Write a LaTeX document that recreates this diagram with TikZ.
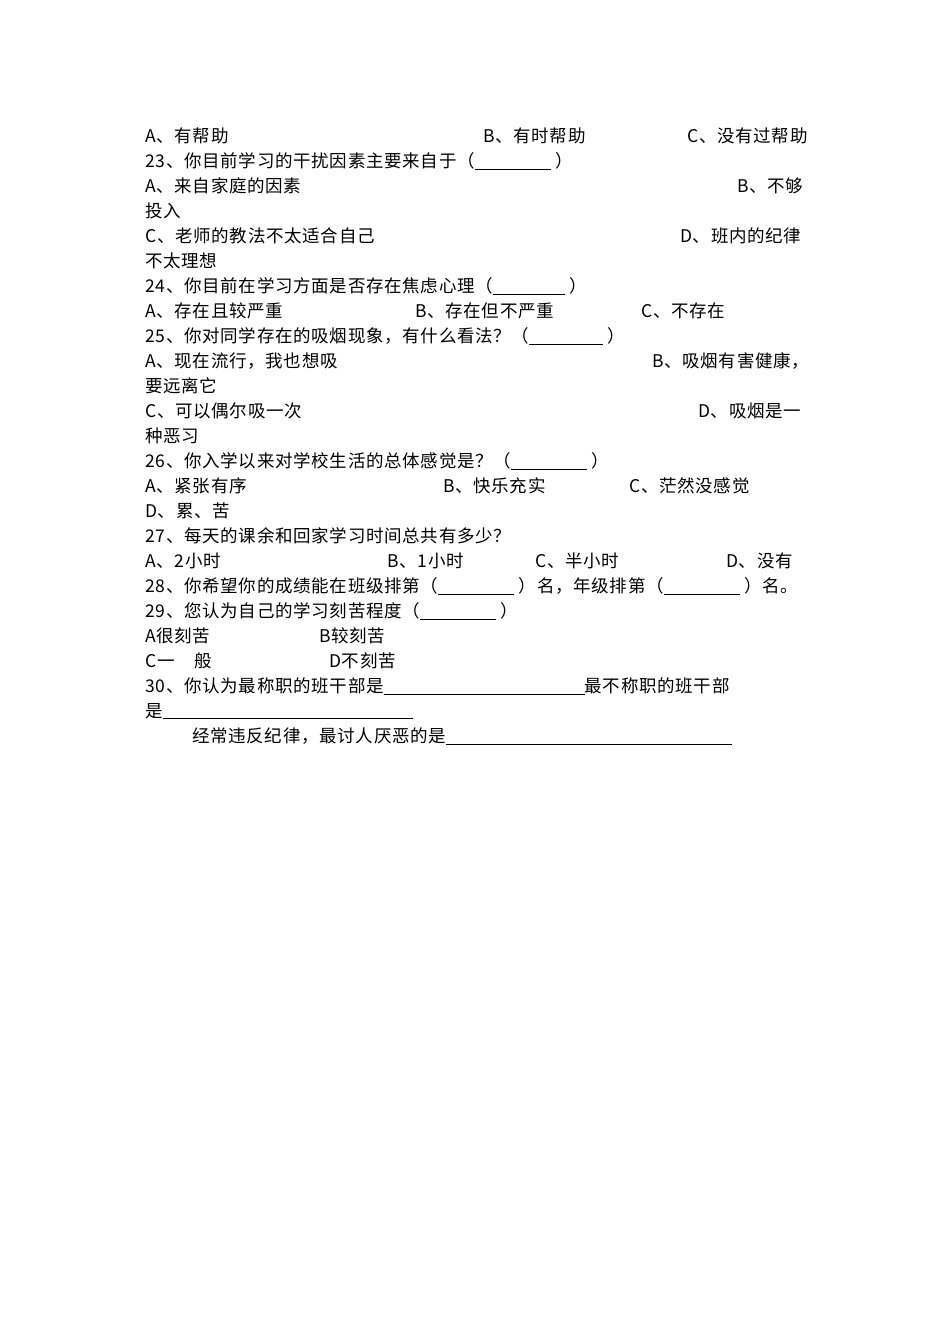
\documentclass[tikz,border=0pt]{standalone}
\usepackage{fontspec}
\newfontfamily\cjk{Noto Sans CJK SC}
\newcommand{\blk}[1]{\rule[-2pt]{#1pt}{0.6pt}}
\tikzset{t/.style={anchor=west,inner sep=0,font=\cjk\fontsize{17.5}{17.5}\selectfont\addfontfeature{LetterSpace=4}}}
\begin{document}
\begin{tikzpicture}[x=1pt,y=-1pt]
\useasboundingbox[fill=white] (0,0) rectangle (950,1344);
\node[t] (l1a) at (145,136) {A、有帮助};
\node[t] (l1b) at (483,136) {B、有时帮助};
\node[t] (l1c) at (687,136) {C、没有过帮助};
\node[t] (l2) at (145,161) {23、你目前学习的干扰因素主要来自于（\blk{76} ）};
\node[t] (l3a) at (145,186) {A、来自家庭的因素};
\node[t] (l3b) at (737,186) {B、不够};
\node[t] (l4) at (145,211) {投入};
\node[t] (l5a) at (145,236) {C、老师的教法不太适合自己};
\node[t] (l5b) at (680,236) {D、班内的纪律};
\node[t] (l6) at (145,261) {不太理想};
\node[t] (l7) at (145,286) {24、你目前在学习方面是否存在焦虑心理（\blk{72} ）};
\node[t] (l8a) at (145,311) {A、存在且较严重};
\node[t] (l8b) at (415,311) {B、存在但不严重};
\node[t] (l8c) at (641,311) {C、不存在};
\node[t] (l9) at (145,336) {25、你对同学存在的吸烟现象，有什么看法？（\blk{74} ）};
\node[t] (l10a) at (145,361) {A、现在流行，我也想吸};
\node[t] (l10b) at (652,361) {B、吸烟有害健康，};
\node[t] (l11) at (145,386) {要远离它};
\node[t] (l12a) at (145,411) {C、可以偶尔吸一次};
\node[t] (l12b) at (698,411) {D、吸烟是一};
\node[t] (l13) at (145,436) {种恶习};
\node[t] (l14) at (145,461) {26、你入学以来对学校生活的总体感觉是？（\blk{76} ）};
\node[t] (l15a) at (145,486) {A、紧张有序};
\node[t] (l15b) at (443,486) {B、快乐充实};
\node[t] (l15c) at (629,486) {C、茫然没感觉};
\node[t] (l16) at (145,511) {D、累、苦};
\node[t] (l17) at (145,536) {27、每天的课余和回家学习时间总共有多少？};
\node[t] (l18a) at (145,561) {A、2小时};
\node[t] (l18b) at (387,561) {B、1小时};
\node[t] (l18c) at (535,561) {C、半小时};
\node[t] (l18d) at (726,561) {D、没有};
\node[t] (l19) at (145,586) {28、你希望你的成绩能在班级排第（\blk{76} ）名，年级排第（\blk{76} ）名。};
\node[t] (l20) at (145,611) {29、您认为自己的学习刻苦程度（\blk{76} ）};
\node[t] (l21a) at (145,636) {A很刻苦};
\node[t] (l21b) at (319,636) {B较刻苦};
\node[t] (l22a) at (145,661) {C一\hspace{20pt}般};
\node[t] (l22b) at (329,661) {D不刻苦};
\node[t] (l23) at (145,686) {30、你认为最称职的班干部是\blk{201}最不称职的班干部};
\node[t] (l24) at (145,711) {是\blk{250}};
\node[t] (l25) at (192,736) {经常违反纪律，最讨人厌恶的是\blk{286}};
\end{tikzpicture}
\end{document}
